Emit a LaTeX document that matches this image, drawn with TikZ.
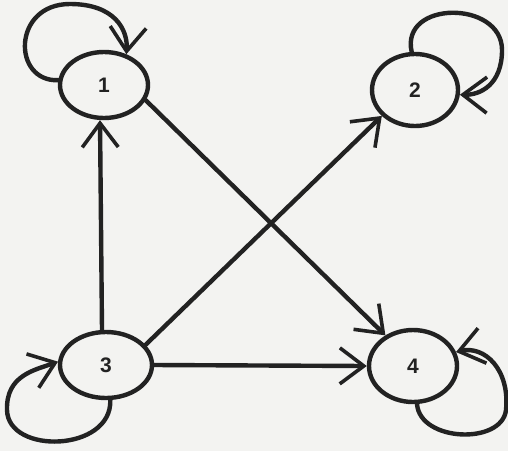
\documentclass[tikz,border=0pt]{standalone}
\usepackage{fontspec}
\setmainfont{Liberation Sans}
\usetikzlibrary{shapes.geometric,arrows.meta}
\definecolor{ink}{HTML}{222222}
\definecolor{paper}{HTML}{F3F3F1}
\tikzset{
  vertex/.style={ellipse,draw=ink,line width=2.2pt,inner sep=0pt,
    font=\fontsize{10.5}{12}\selectfont\bfseries,text=ink},
  edge/.style={draw=ink,line width=2.2pt,line cap=round,
    -{Straight Barb[length=12pt,width=18pt,line width=1.8pt]}},
}
\begin{document}
\begin{tikzpicture}[x=0.5pt,y=-0.5pt]
\fill[paper] (0,0) rectangle (508,451);
\useasboundingbox (0,0) rectangle (508,451);
\node[vertex,minimum width=44pt,minimum height=33pt] (1) at (104,85) {1};
\node[vertex,minimum width=43pt,minimum height=36pt] (2) at (415,90) {2};
\node[vertex,minimum width=46pt,minimum height=33pt] (3) at (106,365) {3};
\node[vertex,minimum width=44pt,minimum height=36pt] (4) at (413,366) {4};
% self loops
\draw[edge] (1.174) .. controls (12,82) and (12,4) .. (70,4) .. controls (115,4) and (128,30) .. (1.54);
\draw[edge] (2.95) .. controls (400,0) and (502,0) .. (502,50) .. controls (502,85) and (480,95) .. (2.354);
\draw[edge] (3.277) .. controls (112,452) and (8,455) .. (7,410) .. controls (6,375) and (35,370) .. (3.176);
\draw[edge] (4.276) .. controls (420,442) and (502,445) .. (506,410) .. controls (510,370) and (485,345) .. (4.18);
% straight edges
\draw[edge] ([xshift=-2pt]3.north) -- ([xshift=-2pt]1.south);
\draw[edge] (1.-20) -- (4.132);
\draw[edge] (3.27) -- (2.218);
\draw[edge] (3.east) -- (4.west);
\end{tikzpicture}
\end{document}
